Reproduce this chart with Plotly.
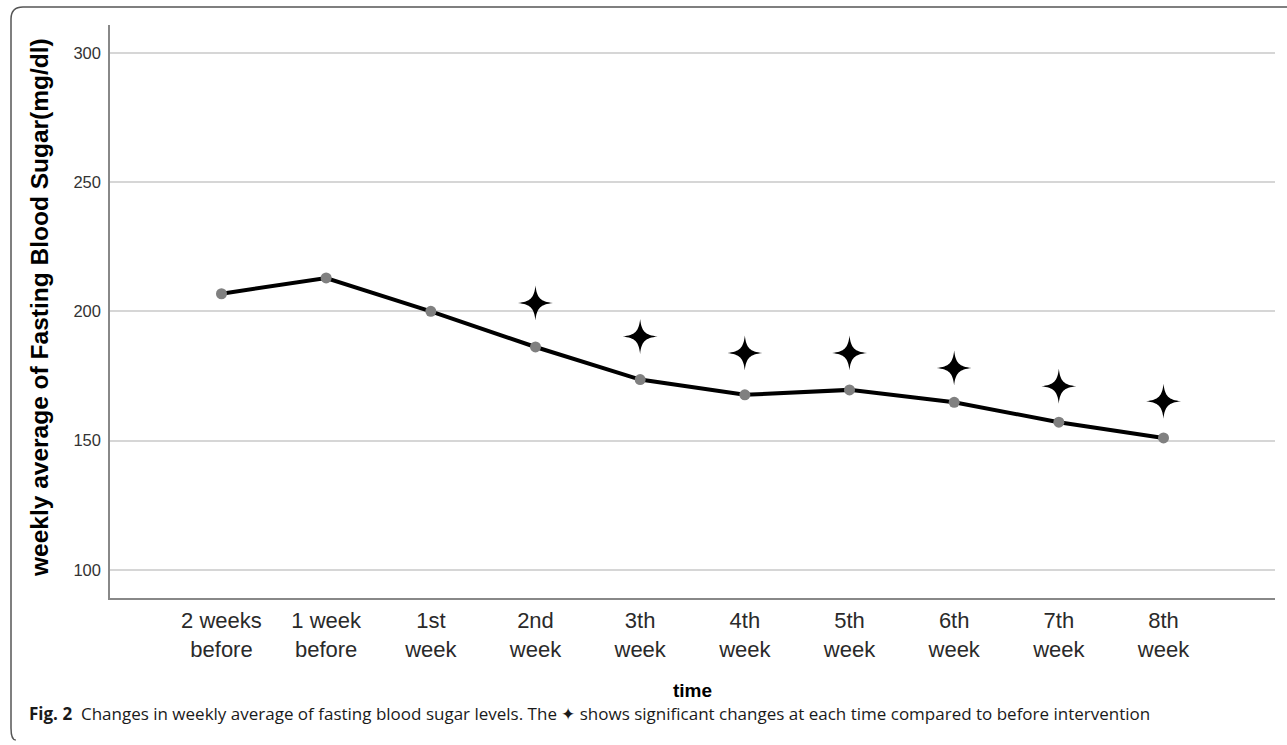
import plotly.graph_objects as go

# ---- data ----
categories = ["2 weeks<br>before", "1 week<br>before", "1st<br>week", "2nd<br>week",
              "3th<br>week", "4th<br>week", "5th<br>week", "6th<br>week",
              "7th<br>week", "8th<br>week"]
weekly_mean_fbs = [206.8, 212.9, 200.0, 186.2, 173.6, 167.7, 169.6, 164.8, 157.1, 151.0]
sig_index = [3, 4, 5, 6, 7, 8, 9]
sig_marker_values = [203.2, 190.3, 183.9, 183.9, 178.1, 171.0, 165.2]
y_ticks = [100, 150, 200, 250, 300]

x_pos = list(range(len(categories)))

W, H = 1287, 745
L, R, T, B = 110, 1275, 25, 598


def px_x(p):
    return (p - L) / (R - L)


def px_y(p):
    return (B - p) / (B - T)


fig = go.Figure()
fig.add_trace(go.Scatter(
    x=x_pos, y=weekly_mean_fbs, mode="lines+markers",
    line=dict(color="black", width=4),
    marker=dict(color="#808080", size=11),
    hoverinfo="y", showlegend=False))

# four-pointed star symbol (pixel-sized path anchored at each data point)
STAR = ("M -17.5 0 C -5 1.4 -1.4 5 0 17.5 C 1.4 5 5 1.4 17.5 0 "
        "C 5 -1.4 1.4 -5 0 -17.5 C -1.4 -5 -5 -1.4 -17.5 0 Z")
for xi, yv in zip(sig_index, sig_marker_values):
    fig.add_shape(type="path", xref="x", yref="y",
                  xsizemode="pixel", ysizemode="pixel",
                  xanchor=xi, yanchor=yv, path=STAR,
                  fillcolor="black", line=dict(width=0), layer="above")

fig.update_layout(
    width=W, height=H, autosize=False,
    margin=dict(l=L, r=W - R, t=T, b=H - B, pad=0),
    paper_bgcolor="white", plot_bgcolor="white",
    font=dict(family="Liberation Sans, Arial", color="#222"),
    xaxis=dict(range=[-1.065, 10.065], tickvals=x_pos, ticktext=categories,
               showgrid=False, showline=True, linecolor="#888", linewidth=1.5,
               ticks="", ticklabelstandoff=2,
               tickfont=dict(size=22, color="#2a2a2a"), zeroline=False),
    yaxis=dict(range=[89.06, 310.8], tickvals=y_ticks, showgrid=True,
               gridcolor="#d6d6d6", gridwidth=2, showline=True,
               linecolor="#888", linewidth=1.5, ticks="", ticklabelstandoff=4,
               tickfont=dict(size=16.5, color="#333"), zeroline=False),
)

# axis titles
fig.add_annotation(text="<b>weekly average of Fasting Blood Sugar(mg/dl)</b>",
                   xref="paper", yref="paper", x=px_x(40), y=px_y(308),
                   xanchor="center", yanchor="middle",
                   textangle=-90, showarrow=False,
                   font=dict(size=24.5, color="black", family="Liberation Sans, Arial"))
fig.add_annotation(text="<b>time</b>", xref="paper", yref="paper",
                   x=0.5, y=px_y(690), xanchor="center", yanchor="middle",
                   showarrow=False,
                   font=dict(size=19, color="black", family="Liberation Sans, Arial"))
# caption
fig.add_annotation(
    text="<b>Fig. 2</b>  Changes in weekly average of fasting blood sugar levels. The \u2726 shows significant changes at each time compared to before intervention",
    xref="paper", yref="paper", x=px_x(27), y=px_y(713), xanchor="left",
    yanchor="middle", showarrow=False,
    font=dict(size=17, color="#1a1a1a", family="Open Sans"))

# frame (left + rounded top-left corner + top)
x0, x1 = px_x(11), px_x(1290)
yt, yb = px_y(7), px_y(740)
rx, ry = 12 / (R - L), 12 / (B - T)
fig.add_shape(type="path", xref="paper", yref="paper",
              path=f"M {x0} {yb + ry} L {x0} {yt - ry} Q {x0} {yt} {x0 + rx} {yt} L {x1} {yt}",
              line=dict(color="#555", width=1.5))
fig.add_shape(type="path", xref="paper", yref="paper",
              path=f"M {x0} {yb + ry} Q {x0} {yb} {x0 + rx * 0.4} {yb}",
              line=dict(color="#555", width=1.5))

fig.write_html("out.html", config={"displayModeBar": False},
               post_script="document.body.style.margin='0';")
